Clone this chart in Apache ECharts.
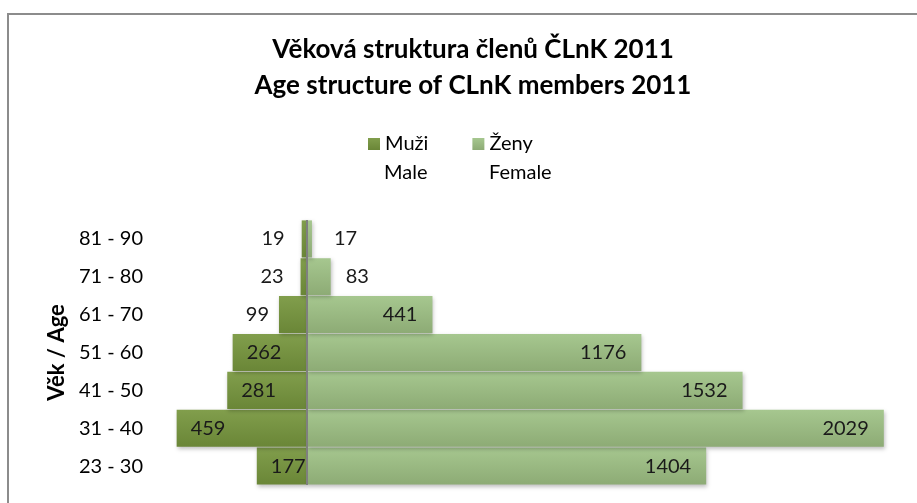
<!DOCTYPE html>
<html>
<head>
<meta charset="utf-8">
<script src="https://cdn.jsdelivr.net/npm/echarts@6/dist/echarts.min.js"></script>
<style>
  html, body { margin: 0; padding: 0; background: #fff; }
  #chart { width: 917px; height: 503px; }
</style>
</head>
<body>
<div id="chart"></div>
<script>
// age groups, bottom to top
var ageGroups = ['23 - 30', '31 - 40', '41 - 50', '51 - 60', '61 - 70', '71 - 80', '81 - 90'];
var maleValues = [177, 459, 281, 262, 99, 23, 19];      // Muži / Male
var femaleValues = [1404, 2029, 1532, 1176, 441, 83, 17]; // Ženy / Female

var chartDom = document.getElementById('chart');
var myChart = echarts.init(chartDom);
var font = 'Lato, "Open Sans", sans-serif';

// male bars go to the left, small ones get the label outside
var maleData = maleValues.map(function (v) {
    var item = { value: -v };
    if (v < 150) {
        item.label = { position: 'left', distance: v < 50 ? 17 : 10 };
    }
    return item;
});
var femaleData = femaleValues.map(function (v) {
    var item = { value: v };
    if (v < 100) {
        item.label = { position: 'right', distance: v < 50 ? 22 : 15 };
    }
    return item;
});

function barColor(top, bottom) {
    return new echarts.graphic.LinearGradient(0, 0, 0, 1, [
        { offset: 0, color: top },
        { offset: 1, color: bottom }
    ]);
}

var option = {
    backgroundColor: '#fff',
    textStyle: { fontFamily: font },
    title: {
        text: 'Věková struktura členů ČLnK 2011\nAge structure of CLnK members 2011',
        left: 468,
        textAlign: 'center',
        top: 27,
        textStyle: {
            fontFamily: font,
            fontSize: 26,
            fontWeight: 'bold',
            color: '#000',
            lineHeight: 36
        }
    },
    legend: {
        data: ['Muži', 'Ženy'],
        left: 368,
        top: 134,
        padding: 0,
        icon: 'rect',
        itemWidth: 12,
        itemHeight: 12,
        itemGap: 44,
        textStyle: { fontFamily: font, fontSize: 20, color: '#000' }
    },
    graphic: [
        {
            type: 'rect',
            shape: { x: 8, y: 14, width: 930, height: 520 },
            style: { fill: null, stroke: '#8c8c8c', lineWidth: 2 },
            silent: true
        },
        {
            type: 'text', left: 384, top: 163,
            style: { text: 'Male', font: '20px ' + font, fill: '#000' }
        },
        {
            type: 'text', left: 489, top: 163,
            style: { text: 'Female', font: '20px ' + font, fill: '#000' }
        }
    ],
    grid: {
        left: 165,
        right: 13,
        top: 220,
        bottom: 18,
        containLabel: false
    },
    xAxis: {
        type: 'value',
        min: -500,
        max: 2100,
        show: false,
        splitLine: { show: false }
    },
    yAxis: {
        type: 'category',
        data: ageGroups,
        name: 'Věk / Age',
        nameLocation: 'middle',
        nameRotate: 90,
        nameGap: 97,
        nameTextStyle: { fontFamily: font, fontSize: 22, fontWeight: 'bold', color: '#000' },
        axisLine: { show: false },
        axisTick: { show: false },
        axisLabel: { margin: 22, fontFamily: font, fontSize: 20, color: '#000' }
    },
    series: [
        {
            name: 'Muži',
            type: 'bar',
            stack: 'total',
            barCategoryGap: '2%',
            data: maleData,
            itemStyle: {
                color: barColor('#819e4c', '#6a8637'),
                shadowColor: 'rgba(0,0,0,0.25)',
                shadowBlur: 4,
                shadowOffsetX: 1,
                shadowOffsetY: 2
            },
            label: {
                show: true,
                position: 'insideLeft',
                distance: 14,
                fontFamily: font,
                fontSize: 20,
                color: '#1a1a1a',
                formatter: function (p) { return Math.abs(p.value); }
            }
        },
        {
            name: 'Ženy',
            type: 'bar',
            stack: 'total',
            barCategoryGap: '2%',
            data: femaleData,
            itemStyle: {
                color: barColor('#a6c78f', '#8dab75'),
                shadowColor: 'rgba(0,0,0,0.25)',
                shadowBlur: 4,
                shadowOffsetX: 1,
                shadowOffsetY: 2
            },
            label: {
                show: true,
                position: 'insideRight',
                distance: 15,
                fontFamily: font,
                fontSize: 20,
                color: '#1a1a1a'
            },
            markLine: {
                silent: true,
                symbol: 'none',
                label: { show: false },
                lineStyle: { color: '#7f7f7f', width: 2, type: 'solid' },
                data: [{ xAxis: 0 }]
            }
        }
    ]
};

option && myChart.setOption(option);
window.addEventListener('resize', myChart.resize);
</script>
</body>
</html>
